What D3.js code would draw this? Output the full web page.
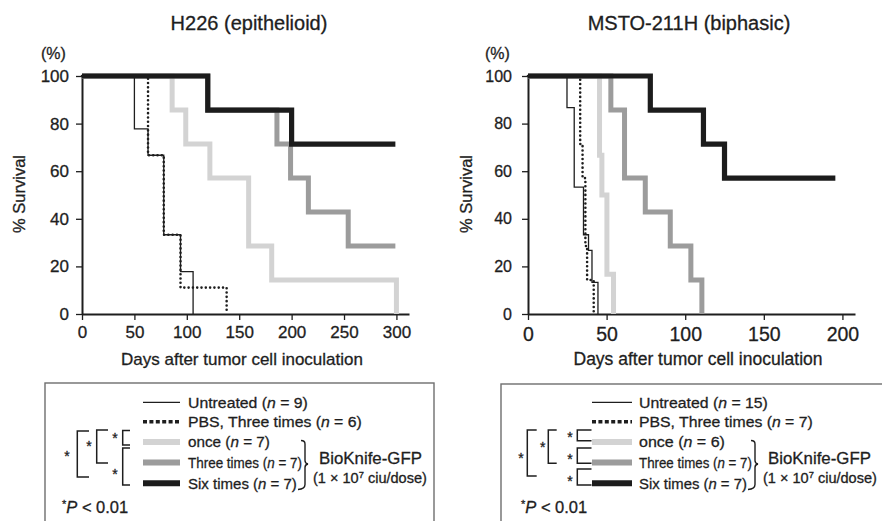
<!DOCTYPE html>
<html>
<head>
<meta charset="utf-8">
<script src="https://cdn.jsdelivr.net/npm/d3@7/dist/d3.min.js"></script>
<style>
  html, body { margin: 0; padding: 0; background: #fff; }
  svg { display: block; font-family: "Liberation Sans", Arial, Helvetica, sans-serif; }
  svg text { stroke: #1e1e1e; stroke-width: 0.3px; }
</style>
</head>
<body>
<svg id="chart" width="882" height="521"></svg>
<script>
// Kaplan–Meier survival: each series lists [day, % surviving after that death]
// H226 (epithelioid)
const h226Untreated = [[50, 77.8], [63, 66.7], [78, 33.3], [94, 17.8], [106, 0]];
const h226PBS = [[63, 66.7], [78, 33.3], [94, 11.1], [138, 0]];
const h226Once = [[86, 85.7], [99, 71.4], [122, 57.1], [159, 28.6], [181, 14.3], [300, 0]];
const h226Three = [[120, 85.7], [186, 71.4], [199, 57.1], [216, 42.9], [254, 28.6]];
const h226Six = [[120, 85.7], [200, 71.4]];
const h226LastDay = 299;

// MSTO-211H (biphasic)
const mstoUntreated = [[24.8, 86.7], [29.4, 53.3], [35.3, 33.3], [38.5, 26.7], [40.7, 13.3], [44.5, 0]];
const mstoPBS = [[33.2, 71.4], [34.7, 57.1], [36.5, 28.6], [37.6, 14.3], [41.8, 0]];
const mstoOnce = [[45.5, 66.7], [47, 50], [50.2, 16.7], [54.4, 0]];
const mstoThree = [[52.7, 85.7], [61.4, 57.1], [74.6, 42.9], [90.5, 28.6], [103.6, 14.3], [110.6, 0]];
const mstoSix = [[77.8, 85.7], [111.6, 71.4], [125, 57.1]];
const mstoLastDay = 195.5;

// Axis ticks
const h226DayTicks = [0, 50, 100, 150, 200, 250, 300];
const mstoDayTicks = [0, 50, 100, 150, 200];
const survivalTicks = [0, 20, 40, 60, 80, 100];

// Legend
const groupNames = ["Untreated", "PBS, Three times", "once", "Three times", "Six times"];
const h226GroupN = [9, 6, 7, 7, 7];
const mstoGroupN = [15, 7, 6, 7, 7];

const svg = d3.select("#chart");
const INK = "#1e1e1e";
const groupStyles = [
  { color: INK, width: 1.3 },                         // Untreated
  { color: INK, width: 2.6, dots: true },             // PBS
  { color: "#d3d3d3", width: 5 },                     // once
  { color: "#9c9c9c", width: 5 },                     // three times
  { color: "#1c1c1c", width: 5.2 }                    // six times
];
const drawOrder = [2, 3, 0, 1, 4];

const y = d3.scaleLinear().domain([0, 100]).range([314, 76]);

// squeeze/stretch a text horizontally so it spans the given width
function fitWidth(t, x, yPos, width) {
  t.attr("x", 0).attr("y", 0);
  const w = t.node().getBBox().width;
  t.attr("transform", `translate(${x},${yPos}) scale(${width / w},1)`);
}

function survivalCurve(events, lastDay) {
  const pts = [[0, 100], ...events];
  const last = events[events.length - 1];
  if (last[1] > 0) pts.push([lastDay, last[1]]);
  return pts;
}

function drawPanel(p) {
  const x = d3.scaleLinear().domain([0, p.xMax]).range(p.xRange);
  const g = svg.append("g");
  const x0 = p.xRange[0];

  g.append("text").attr("x", p.titleX).attr("y", 30).attr("text-anchor", "middle")
    .attr("font-size", 20).attr("fill", INK).text(p.title);
  g.append("text").attr("x", p.pctX).attr("y", 59).attr("font-size", 16)
    .attr("fill", INK).text("(%)");

  const yAxis = g.append("g").attr("transform", `translate(${x0},0)`)
    .call(d3.axisLeft(y).tickValues(survivalTicks).tickSize(6).tickSizeOuter(0).tickPadding(p.yPad));
  yAxis.selectAll("text").attr("font-size", p.yFont).attr("fill", INK);

  const xAxis = g.append("g").attr("transform", `translate(0,${y(0)})`)
    .call(d3.axisBottom(x).tickValues(p.ticks).tickSize(6).tickSizeOuter(0).tickPadding(p.xPad));
  xAxis.selectAll("text").attr("font-size", p.xFont).attr("fill", INK);
  [yAxis, xAxis].forEach(a => {
    a.select(".domain").attr("stroke", INK).attr("stroke-width", 2);
    a.selectAll(".tick line").attr("stroke", INK).attr("stroke-width", 1.3);
  });

  g.append("text").attr("x", p.xLabelX).attr("y", 365).attr("text-anchor", "middle")
    .attr("font-size", p.xLabelFont).attr("fill", INK).text("Days after tumor cell inoculation");
  g.append("text").attr("transform", `translate(${p.yLabelX},194) rotate(-90)`)
    .attr("text-anchor", "middle").attr("font-size", 16.5).attr("fill", INK).text("% Survival");

  const line = d3.line().x(d => x(d[0])).y(d => y(d[1])).curve(d3.curveStepAfter);
  drawOrder.forEach(i => {
    const st = groupStyles[i];
    const path = g.append("path").datum(survivalCurve(p.series[i], p.lastDay))
      .attr("d", line).attr("fill", "none").attr("stroke", st.color)
      .attr("stroke-width", st.width).attr("stroke-linejoin", "miter");
    if (st.dots) path.attr("stroke-dasharray", "0 4.3").attr("stroke-linecap", "round");
  });
}

drawPanel({
  title: "H226 (epithelioid)", titleX: 249, pctX: 41,
  xMax: 312, xRange: [82, 409], ticks: h226DayTicks, xFont: 17, yFont: 17, xPad: 6, yPad: 7,
  xLabelX: 242, xLabelFont: 17, yLabelX: 25, lastDay: h226LastDay,
  series: [h226Untreated, h226PBS, h226Once, h226Three, h226Six]
});
drawPanel({
  title: "MSTO-211H (biphasic)", titleX: 689, pctX: 485,
  xMax: 208, xRange: [528, 855], ticks: mstoDayTicks, xFont: 19.5, yFont: 16, xPad: 7, yPad: 10,
  xLabelX: 698, xLabelFont: 17.5, yLabelX: 472, lastDay: mstoLastDay,
  series: [mstoUntreated, mstoPBS, mstoOnce, mstoThree, mstoSix]
});

// ---- legends ----
const rowSampleY = [402.3, 421.7, 442, 462.5, 483.3];
const rowTextY = [407.5, 427, 447, 467.5, 488.5];

function bracket(g, xv, xArm, y1, y2) {
  g.append("path").attr("d", `M${xArm},${y1}H${xv}V${y2}H${xArm}`)
    .attr("fill", "none").attr("stroke", INK).attr("stroke-width", 1.5);
}
function star(g, cx, cy) {
  g.append("text").attr("x", cx).attr("y", cy + 8).attr("text-anchor", "middle")
    .attr("font-size", 14).attr("fill", INK).text("*");
}

function drawLegend(L) {
  const g = svg.append("g");
  g.append("rect").attr("x", L.box[0]).attr("y", L.box[1]).attr("width", L.box[2]).attr("height", 160)
    .attr("fill", "none").attr("stroke", "#6e6e6e").attr("stroke-width", 1.4);

  groupNames.forEach((name, i) => {
    const st = groupStyles[i];
    const ln = g.append("line").attr("x1", L.sampleX[0]).attr("x2", L.sampleX[1])
      .attr("y1", rowSampleY[i]).attr("y2", rowSampleY[i]).attr("stroke", st.color);
    if (i === 0) ln.attr("stroke-width", 1.2);
    else if (st.dots) ln.attr("stroke-width", 3.6).attr("stroke-dasharray", "4 2.4");
    else ln.attr("stroke-width", 6);

    const t = g.append("text").attr("font-size", 15.5).attr("fill", INK);
    t.append("tspan").text(name + " (");
    t.append("tspan").attr("font-style", "italic").text("n");
    t.append("tspan").text(" = " + L.n[i] + ")");
    fitWidth(t, L.textX, rowTextY[i], L.widths[i]);
  });

  // brace grouping the three BioKnife-GFP doses
  const bx = L.braceX;
  g.append("path")
    .attr("d", `M${bx - 4},440.5 Q${bx},440.5 ${bx},444 V460.5 Q${bx},463.5 ${bx + 3},464 Q${bx},464.5 ${bx},467.5 V484.5 Q${bx},489 ${bx - 7},489.5`)
    .attr("fill", "none").attr("stroke", INK).attr("stroke-width", 1.4);

  const bio = g.append("text").attr("font-size", 17).attr("fill", INK).text("BioKnife-GFP");
  fitWidth(bio, L.bioX, 464, 103);
  const dose = g.append("text").attr("font-size", 14).attr("fill", INK);
  dose.append("tspan").text("(1 × 10");
  dose.append("tspan").attr("font-size", 9).attr("dy", -5).text("7");
  dose.append("tspan").attr("dy", 5).text(" ciu/dose)");
  fitWidth(dose, L.doseX, 483, 114);

  L.brackets.forEach(b => { bracket(g, b[0], b[1], b[2], b[3]); star(g, b[4], b[5]); });

  const pv = g.append("text").attr("x", L.pX).attr("y", 513).attr("font-size", 16.5).attr("fill", INK);
  pv.append("tspan").attr("font-size", 11).attr("dy", -5).text("*");
  pv.append("tspan").attr("dy", 5).attr("font-style", "italic").text("P");
  pv.append("tspan").text(" < 0.01");
}

drawLegend({
  box: [45, 383, 389], sampleX: [143, 180], textX: 188, n: h226GroupN,
  widths: [120, 174, 82, 114, 109], braceX: 305, bioX: 319, doseX: 313, pX: 62,
  brackets: [
    [77.3, 89, 431, 477, 67, 453],
    [96.7, 108, 430, 463, 89, 443],
    [122.7, 130, 430.5, 445, 115, 435],
    [122.7, 130, 448, 485, 115, 471]
  ]
});
drawLegend({
  box: [501, 384, 400], sampleX: [592, 632], textX: 639, n: mstoGroupN,
  widths: [129, 174, 86, 113, 108], braceX: 755, bioX: 768, doseX: 763, pX: 521,
  brackets: [
    [527.3, 536.7, 430, 476, 521, 455],
    [548.3, 556.7, 430, 463.3, 542.7, 444],
    [577.3, 591.5, 430, 440.7, 570, 434],
    [577.3, 591.5, 448, 463.3, 570, 456],
    [577.3, 591.5, 469, 485, 570, 478]
  ]
});
</script>
</body>
</html>
